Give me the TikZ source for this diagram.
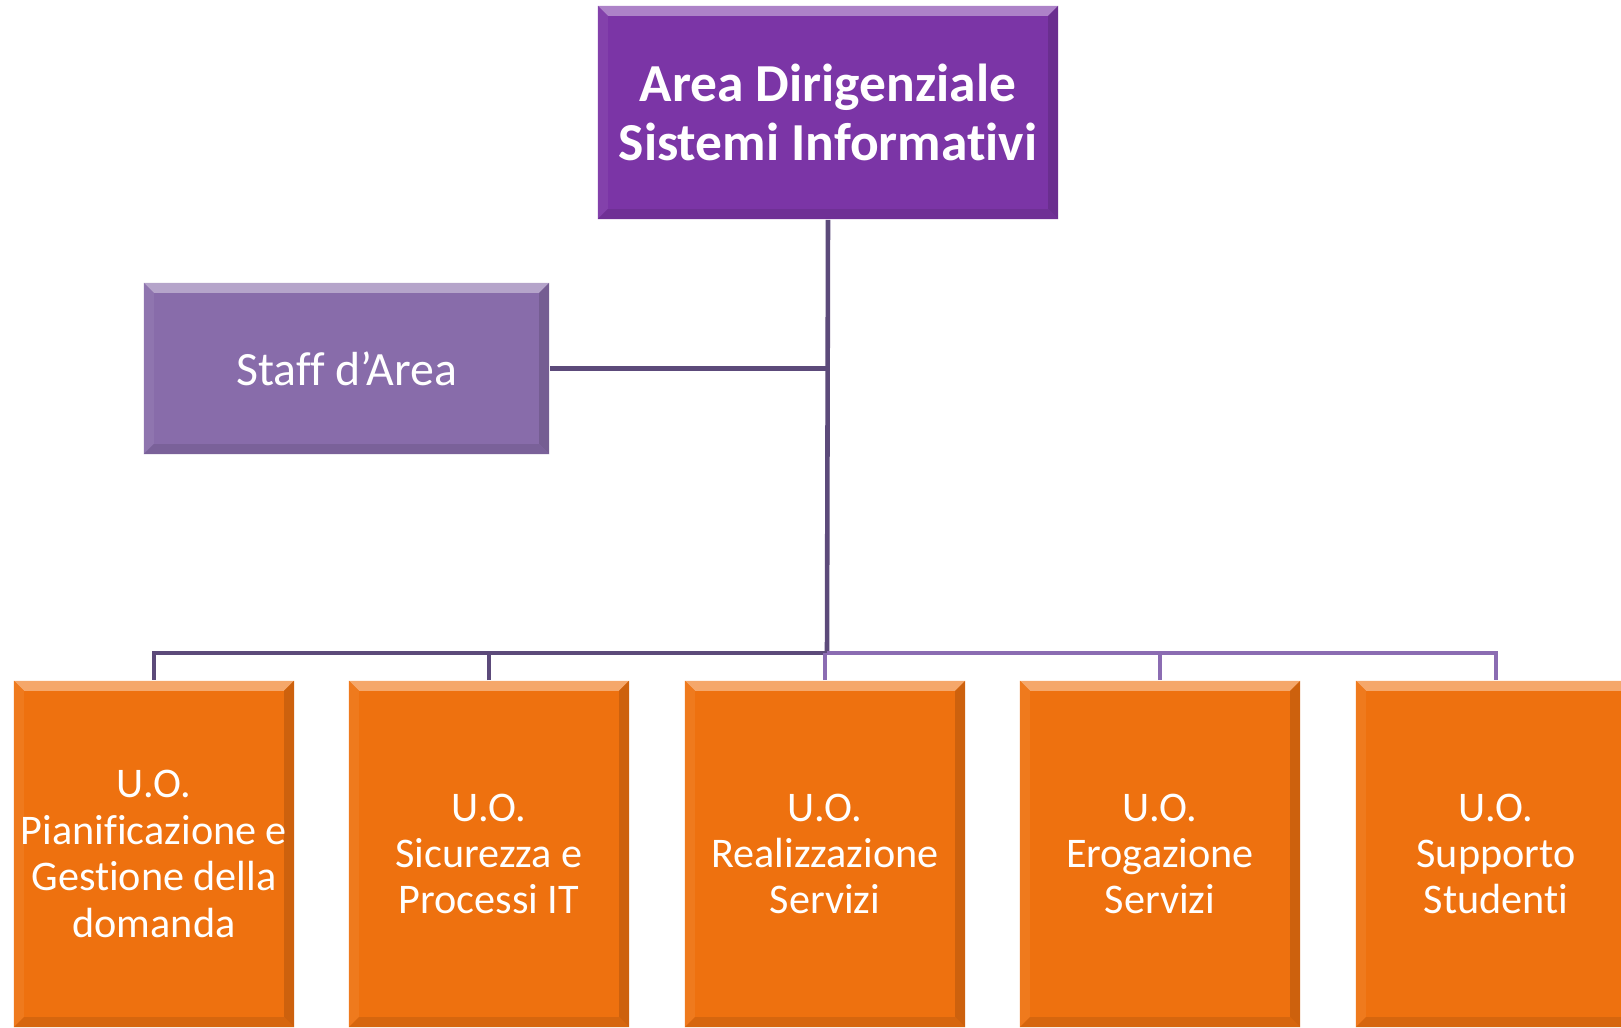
\documentclass[tikz,border=0pt]{standalone}
\usepackage{fontspec}
\setmainfont{Carlito}[Ligatures=NoCommon]
\usetikzlibrary{positioning, calc}
\definecolor{areaviola}{RGB}{123,53,166}
\definecolor{staffviola}{RGB}{136,108,170}
\definecolor{uoarancio}{RGB}{238,113,15}
\definecolor{lineadark}{RGB}{92,74,122}
\definecolor{linealight}{RGB}{139,108,178}
\newcommand{\ramo}[3]
{
	\draw[#1] (#3.north) -- (#3.north |- #2)
}
\tikzset{
	bevel/.style={path picture={
		\fill[#1!62!white] (path picture bounding box.north west) -- (path picture bounding box.north east)
			-- ($(path picture bounding box.north east)+(-0.1cm,-0.1cm)$) -- ($(path picture bounding box.north west)+(0.1cm,-0.1cm)$) -- cycle;
		\fill[#1!94!white] (path picture bounding box.north west) -- (path picture bounding box.south west)
			-- ($(path picture bounding box.south west)+(0.1cm,0.1cm)$) -- ($(path picture bounding box.north west)+(0.1cm,-0.1cm)$) -- cycle;
		\fill[#1!86!black] (path picture bounding box.north east) -- (path picture bounding box.south east)
			-- ($(path picture bounding box.south east)+(-0.1cm,0.1cm)$) -- ($(path picture bounding box.north east)+(-0.1cm,-0.1cm)$) -- cycle;
		\fill[#1!90!black] (path picture bounding box.south west) -- (path picture bounding box.south east)
			-- ($(path picture bounding box.south east)+(-0.1cm,0.1cm)$) -- ($(path picture bounding box.south west)+(0.1cm,0.1cm)$) -- cycle;
	}},
	box/.style={rectangle, inner sep=0pt, align=center, text=white, fill=#1, bevel=#1},
	uo/.style={box=uoarancio, minimum width=2.8cm, minimum height=3.46cm, font=\fontsize{12}{13.2}\selectfont},
	darkline/.style={draw=lineadark, line width=1.3pt},
	lightline/.style={draw=linealight, line width=1.3pt}
}

\begin{document}
\begin{tikzpicture}[x=0.01cm, y=-0.01cm]
	\useasboundingbox (0,0) rectangle (1621,1027);
	\clip (0,0) rectangle (1621,1027);
	\node[box=areaviola, minimum width=4.6cm, minimum height=2.13cm, font=\bfseries\fontsize{15.2}{16.8}\selectfont] at (828,112.5) (area) {Area Dirigenziale\\Sistemi Informativi};
	\node[box=staffviola, minimum width=4.05cm, minimum height=1.71cm, font=\fontsize{13.6}{15}\selectfont] at (346.5,368.5) (staff) {Staff d'Area};
	\coordinate (bus) at (827,653);
	\foreach \i/\x/\t in {1/154/{U.O.\\Pianificazione e\\Gestione della\\domanda}, 2/489/{U.O.\\Sicurezza e\\Processi IT}, 3/825/{U.O.\\Realizzazione\\Servizi}, 4/1160/{U.O.\\Erogazione\\Servizi}, 5/1496/{U.O.\\Supporto\\Studenti}}
		\node[uo] at (\x,854) (uo\i) {\t};
	\draw[darkline] (area.south) -- (bus);
	\draw[darkline] (staff.east) -- (staff.east -| area.south);
	\draw[darkline] (bus) -| (uo1.north);
	\draw[lightline] (bus) -| (uo5.north);
	\ramo{darkline}{bus}{uo2};
	\ramo{lightline}{bus}{uo3};
	\ramo{lightline}{bus}{uo4};
\end{tikzpicture}
\end{document}
